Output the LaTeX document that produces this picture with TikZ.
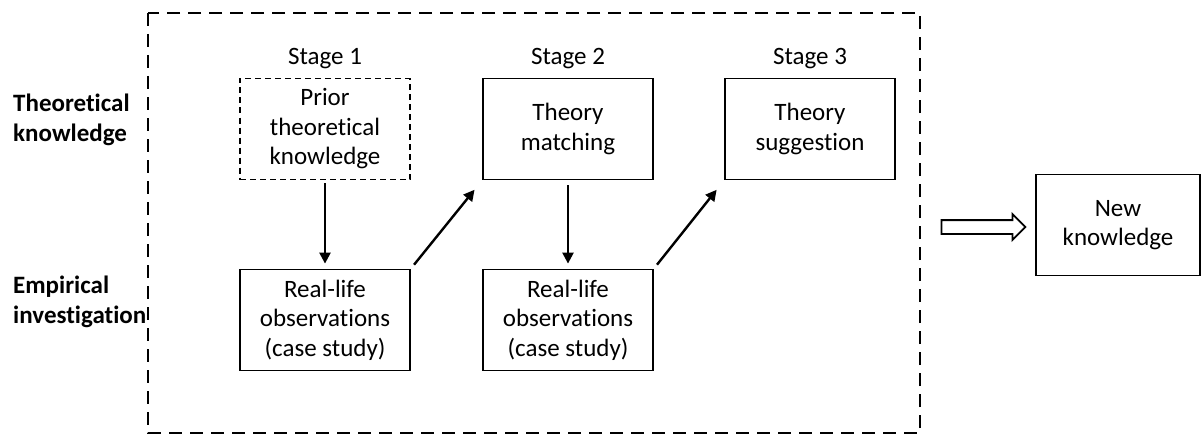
\documentclass[tikz,border=0pt]{standalone}
\usepackage{fontspec}
\setmainfont{Carlito}[Ligatures={NoCommon}]
\usetikzlibrary{arrows.meta,shapes.arrows}

\begin{document}
\begin{tikzpicture}[x=1pt,y=-1pt,
      every node/.style={font=\fontsize{25}{29.5}\selectfont,inner sep=0pt},
      stagebox/.style={draw,line width=1.8pt,minimum width=170pt,minimum height=101pt,align=center},
      priorbox/.style={stagebox,dash pattern=on 6pt off 4pt},
      sidelabel/.style={anchor=west,align=left,font=\fontsize{25}{29.5}\selectfont\bfseries},
      steplabel/.style={anchor=base},
      flow/.style={line width=2.4pt,-{Triangle[length=11pt,width=11pt]}}]
    \useasboundingbox (0,0) rectangle (1202,436);
    % outer frame
    \draw[line width=1.8pt,dash pattern=on 13pt off 8pt] (148,13) rectangle (920,433);
    % row labels
    \node[sidelabel] (theo) at (13,120) {Theoretical\\knowledge};
    \node[sidelabel] (emp) at (13,302) {Empirical\\investigation};
    % stage titles
    \node[steplabel] (s1) at (325,65) {Stage 1};
    \node[steplabel] (s2) at (568,65) {Stage 2};
    \node[steplabel] (s3) at (810,65) {Stage 3};
    % boxes
    \node[priorbox] (prior) at (325,129) {Prior\\theoretical\\knowledge};
    \node[stagebox] (match) at (568,129) {Theory\\matching};
    \node[stagebox] (sugg) at (810,129) {Theory\\suggestion};
    \node[stagebox] (obs1) at (325,320) {Real-life\\observations\\(case study)};
    \node[stagebox] (obs2) at (568,320) {Real-life\\observations\\(case study)};
    \node[stagebox,minimum width=164pt] (new) at (1118,225) {New\\knowledge};
    % block arrow
    \node[single arrow,draw,line width=1.8pt,minimum height=84pt,text height=12pt,text depth=0pt,
          single arrow head extend=6pt,single arrow head indent=0pt] (imp) at (980,227) {};
    % connectors
    \draw[flow,shorten <=3pt,shorten >=5pt] (prior.south) -- (obs1.north);
    \draw[flow,shorten <=5pt,shorten >=5pt] (match.south) -- (obs2.north);
    \draw[flow,shorten <=5pt,shorten >=12pt] (obs1.north east) -- (match.south west);
    \draw[flow,shorten <=5pt,shorten >=12pt] (obs2.north east) -- (sugg.south west);
\end{tikzpicture}
\end{document}
